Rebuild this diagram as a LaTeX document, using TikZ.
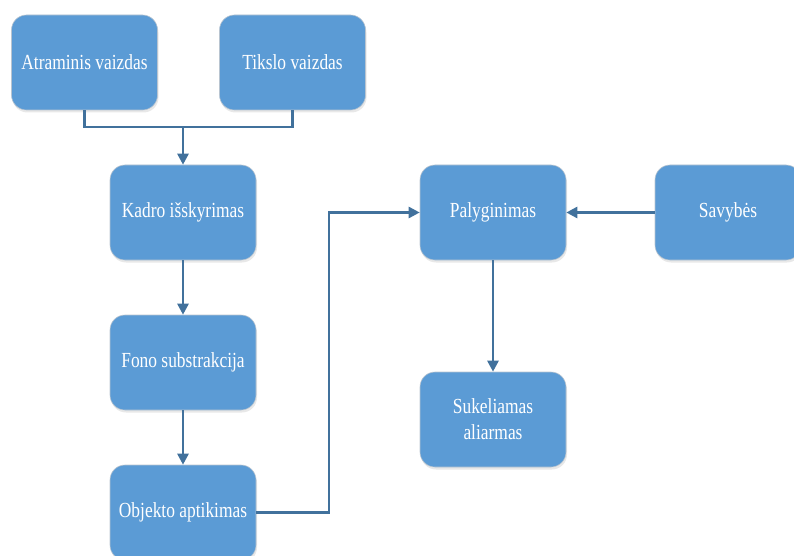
\documentclass[tikz,border=0pt]{standalone}
\usepackage{fontspec}
\setmainfont{Liberation Serif}[FakeStretch=0.81]
\usetikzlibrary{arrows.meta,shadows,calc}
\definecolor{boxfill}{HTML}{5B9BD5}
\definecolor{boxline}{HTML}{B8C4D0}
\definecolor{conn}{HTML}{41719C}
\begin{document}
\begin{tikzpicture}[x=1pt,y=-1pt,
  procbox/.style={rectangle, rounded corners=15pt, fill=boxfill, draw=boxline, line width=0.6pt,
    minimum width=146pt, minimum height=95pt, inner sep=2pt, align=center, text=white,
    font=\fontsize{21.5}{26}\selectfont,
    drop shadow={opacity=0.18, shadow xshift=1pt, shadow yshift=-2.5pt}},
  link/.style={draw=conn, line width=2.6pt},
  arr/.style={link, -{Triangle[width=11pt,length=11pt]}}]
\useasboundingbox (0,0) rectangle (794,556);
\node[procbox] (atr) at (84.5,62.5) {Atraminis vaizdas};
\node[procbox] (tik) at (292.5,62.5) {Tikslo vaizdas};
\node[procbox] (kad) at (183,212.5) {Kadro išskyrimas};
\node[procbox] (fon) at (183,362.5) {Fono substrakcija};
\node[procbox] (obj) at (183,512.5) {Objekto aptikimas};
\node[procbox] (pal) at (493,212.5) {Palyginimas};
\node[procbox] (sav) at (728,212.5) {Savybės};
\node[procbox] (suk) at (493,419.5) {Sukeliamas\\aliarmas};
\coordinate (mid) at (183,127);
\coordinate (bend) at (329,512.5);
\draw[link] (atr.south) |- (mid) -| (tik.south);
\draw[arr] (mid) -- (kad.north);
\draw[arr] (kad.south) -- (fon.north);
\draw[arr] (fon.south) -- (obj.north);
\draw[arr] (obj.east) -- (bend) |- (pal.west);
\draw[arr] (sav.west) -- (pal.east);
\draw[arr] (pal.south) -- (suk.north);
\end{tikzpicture}
\end{document}
